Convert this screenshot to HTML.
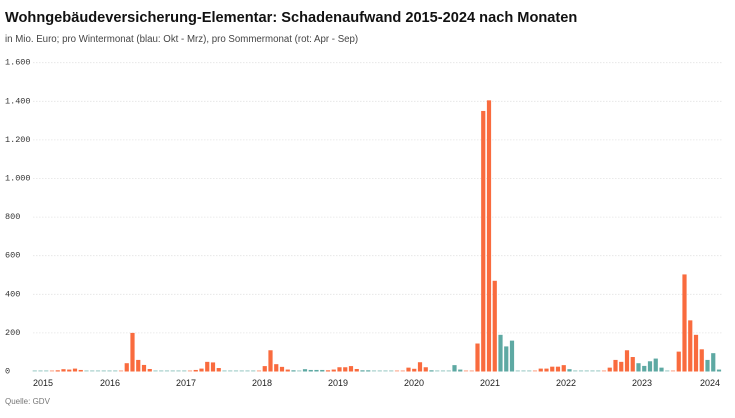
<!DOCTYPE html>
<html><head><meta charset="utf-8"><style>
html,body{margin:0;padding:0;background:#fff;}
body{width:735px;height:413px;overflow:hidden;font-family:"Liberation Sans",sans-serif;}
</style></head><body>
<svg id="c" width="735" height="413" xmlns="http://www.w3.org/2000/svg">
<text x="5" y="22" font-size="14.6" font-weight="bold" fill="#111" font-family="Liberation Sans, sans-serif">Wohngebäudeversicherung-Elementar: Schadenaufwand 2015-2024 nach Monaten</text>
<text x="5" y="42" font-size="9.7" fill="#444" font-family="Liberation Sans, sans-serif">in Mio. Euro; pro Wintermonat (blau: Okt - Mrz), pro Sommermonat (rot: Apr - Sep)</text>
<g id="grid" font-family="Liberation Mono, monospace" font-size="8.5" fill="#333"></g>
<g id="bars"></g>
<g font-family="Liberation Sans, sans-serif" font-size="9" fill="#222" text-anchor="middle">
<text x="43" y="386">2015</text><text x="110" y="386">2016</text><text x="186" y="386">2017</text>
<text x="262" y="386">2018</text><text x="338" y="386">2019</text><text x="414" y="386">2020</text>
<text x="490" y="386">2021</text><text x="566" y="386">2022</text><text x="642" y="386">2023</text>
<text x="710" y="386">2024</text>
</g>
<text x="5" y="404" font-size="8" fill="#777" font-family="Liberation Sans, sans-serif">Quelle: GDV</text>
</svg>
<script>
var base=371.5,k=0.193,ns="http://www.w3.org/2000/svg";
var g=document.getElementById('grid');
for(var v=0;v<=1600;v+=200){var y=base-v*k;
 if(v>0){var l=document.createElementNS(ns,'line');l.setAttribute('x1',33);l.setAttribute('x2',722);l.setAttribute('y1',y);l.setAttribute('y2',y);l.setAttribute('stroke','#e4e4e4');l.setAttribute('stroke-width','0.8');l.setAttribute('stroke-dasharray','1.5,1.5');g.appendChild(l);}
 var t=document.createElementNS(ns,'text');t.setAttribute('x',5);t.setAttribute('y',y+2);
 t.textContent=v===0?'0':(v>=1000?(Math.floor(v/1000)+'.'+('00'+(v%1000)).slice(-3)):String(v));g.appendChild(t);}
var d=[3,3,3,5,6,12,10,15,8,2,2,2,
3,3,3,3,43,200,60,34,13,5,5,5,
3,3,3,3,8,15,50,47,18,5,5,5,
3,3,3,5,28,110,38,24,10,6,3,12,
8,8,8,6,10,22,22,28,13,6,6,4,
3,3,3,3,5,20,14,48,22,6,3,3,
4,33,10,3,3,145,1350,1405,470,190,130,160,
5,5,5,4,15,15,25,25,33,12,5,5,
3,3,4,3,20,60,50,110,75,43,29,53,
67,20,5,4,103,503,265,190,115,60,95,10];
var b=document.getElementById('bars');
for(var m=0;m<120;m++){var x=489+(m-79)*5.75;var mo=m%12;var red=(mo>=3&&mo<=8);
 var h=Math.max(1.2,d[m]*k);var r=document.createElementNS(ns,'rect');
 r.setAttribute('x',x-2.1);r.setAttribute('width',4.2);r.setAttribute('y',base-h);r.setAttribute('height',h);
 r.setAttribute('fill',red?'#f96b3e':'#5ea9a3');if(d[m]<=5)r.setAttribute('opacity','0.55');b.appendChild(r);}
</script>
</body></html>
